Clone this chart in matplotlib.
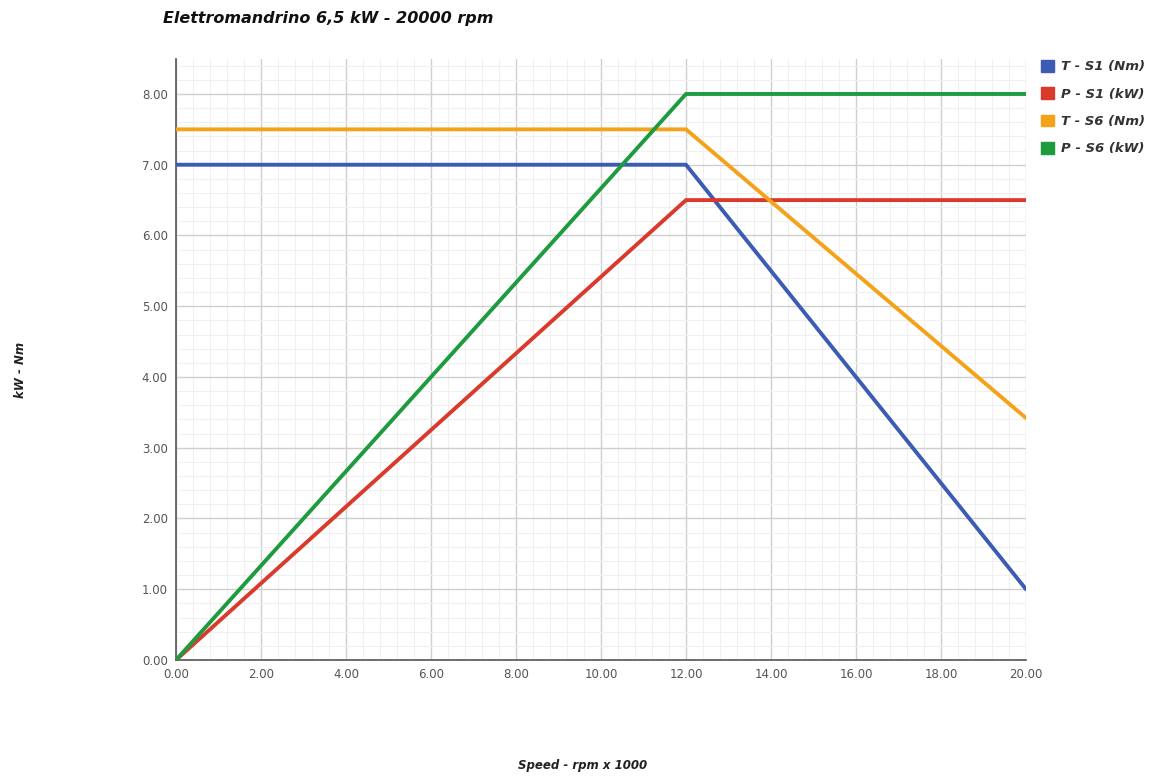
import matplotlib
matplotlib.use("Agg")
import matplotlib.pyplot as plt
from matplotlib.ticker import MultipleLocator, FormatStrFormatter
from matplotlib.patches import Patch

speed = [0, 12, 20]
t_s1 = [7.0, 7.0, 1.0]
p_s1 = [0.0, 6.5, 6.5]
t_s6 = [7.5, 7.5, 3.42]
p_s6 = [0.0, 8.0, 8.0]
series = [
    ("T - S1 (Nm)", t_s1, "#3b5bb5"),
    ("P - S1 (kW)", p_s1, "#d93a2b"),
    ("T - S6 (Nm)", t_s6, "#f5a21b"),
    ("P - S6 (kW)", p_s6, "#1e9a3f"),
]

fig = plt.figure(figsize=(11.61, 7.77), dpi=100)
ax = fig.add_axes([176/1161, 1-660/777, (1026-176)/1161, (660-58.6)/777])

for name, vals, col in series:
    ax.plot(speed, vals, color=col, lw=2.8, solid_capstyle="round", zorder=3)

ax.set_xlim(0, 20)
ax.set_ylim(0, 8.5)
ax.xaxis.set_major_locator(MultipleLocator(2))
ax.xaxis.set_minor_locator(MultipleLocator(0.4))
ax.yaxis.set_major_locator(MultipleLocator(1))
ax.yaxis.set_minor_locator(MultipleLocator(0.2))
ax.xaxis.set_major_formatter(FormatStrFormatter("%.2f"))
ax.yaxis.set_major_formatter(FormatStrFormatter("%.2f"))
ax.grid(which="major", color="#cfcfcf", lw=1)
ax.grid(which="minor", color="#f0f0f0", lw=0.8)
ax.set_axisbelow(True)
for s in ["top", "right"]:
    ax.spines[s].set_visible(False)
for s in ["left", "bottom"]:
    ax.spines[s].set_color("#555555")
    ax.spines[s].set_linewidth(1.2)
ax.tick_params(which="both", length=0, colors="#555555", labelsize=8.5, pad=6)

fig.text(163/1161, 1-18/777, "Elettromandrino 6,5 kW - 20000 rpm", fontsize=11.5,
         style="italic", weight="bold", color="#111111", ha="left", va="center")
fig.text(583/1161, 1-766/777, "Speed - rpm x 1000", fontsize=8.5, style="italic",
         weight="bold", color="#222222", ha="center", va="center")
fig.text(20/1161, 1-370/777, "kW - Nm", fontsize=8.5, style="italic",
         weight="bold", color="#222222", ha="center", va="center", rotation=90)

handles = [Patch(facecolor=c, edgecolor=c) for _, _, c in series]
labels = [n for n, _, _ in series]
fig.legend(handles, labels, loc="upper left", bbox_to_anchor=(1041/1161, 1-60/777),
           frameon=False, prop={"size": 9.5, "style": "italic", "weight": "bold"},
           handlelength=1.0, handleheight=1.0, handletextpad=0.5, labelspacing=1.05,
           labelcolor="#333333", borderaxespad=0, borderpad=0)

fig.savefig("out.png", dpi=100)
